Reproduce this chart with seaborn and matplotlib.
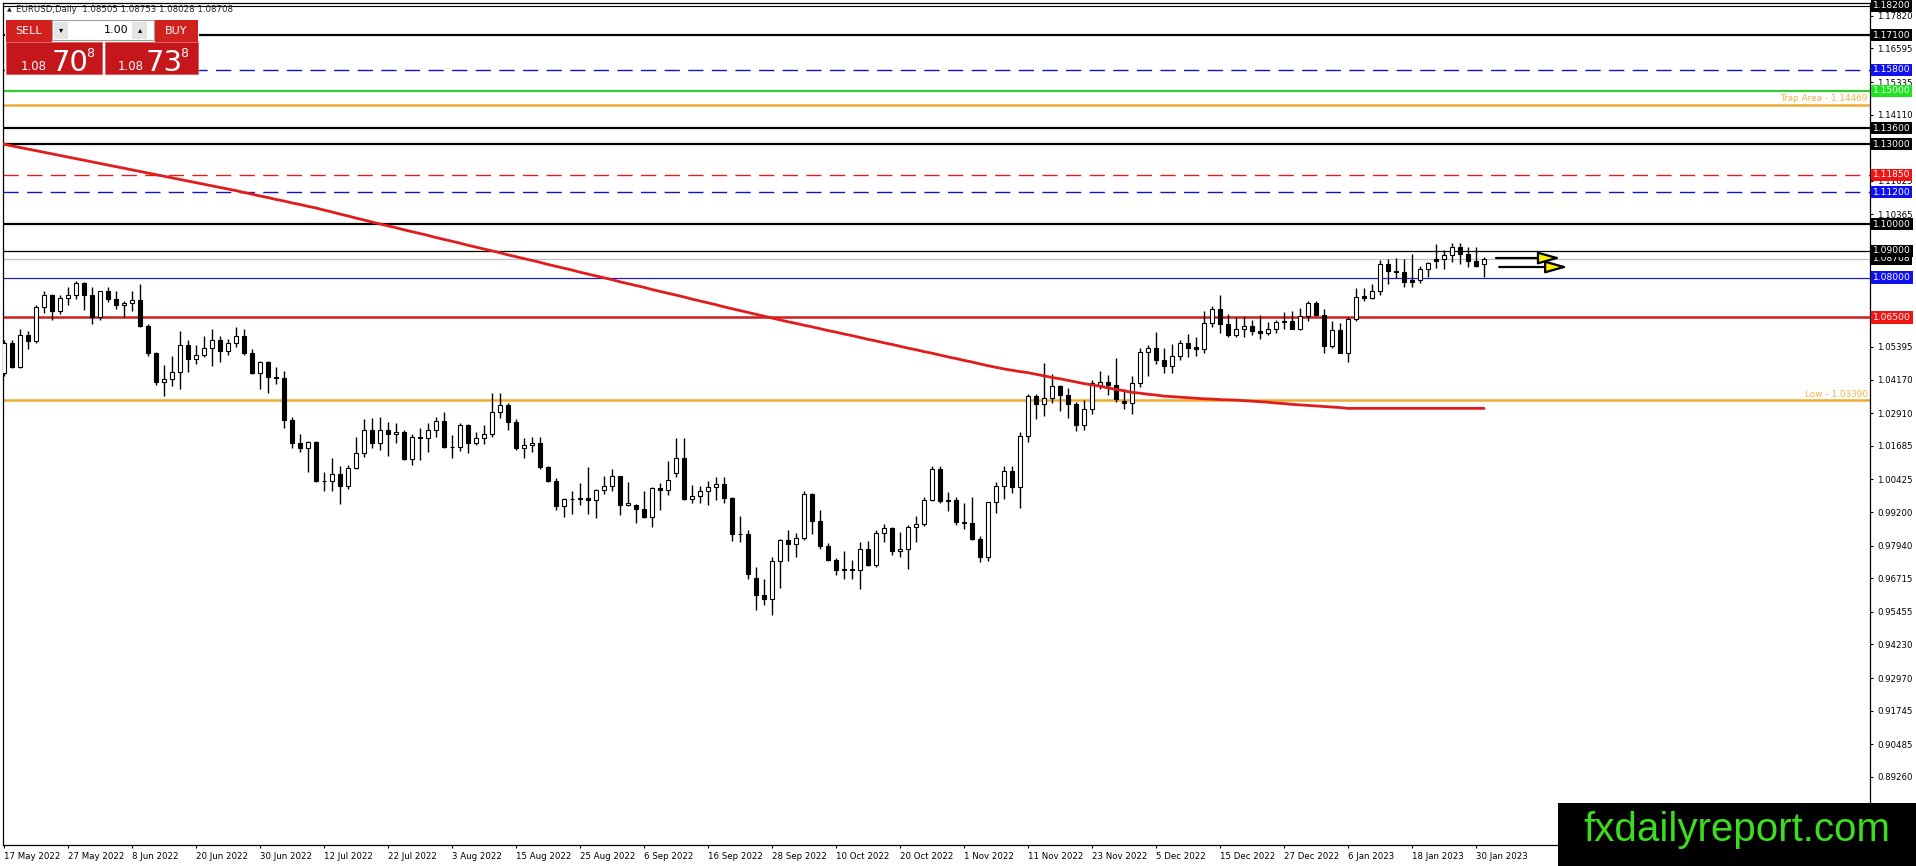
import numpy as np
import pandas as pd
import matplotlib
matplotlib.use('Agg')
import matplotlib.pyplot as plt
from matplotlib.patches import Rectangle
from matplotlib import transforms
import seaborn as sns

# ---- data -------------------------------------------------------------
dates = pd.bdate_range('2022-05-17', '2023-01-31')  # daily bars

opens = [
    1.0440, 1.0554, 1.0464, 1.0586, 1.0563, 1.0690, 1.0733, 1.0676, 1.0725, 1.0733,
    1.0781, 1.0733, 1.0650, 1.0748, 1.0719, 1.0697, 1.0705, 1.0716, 1.0617, 1.0518,
    1.0409, 1.0419, 1.0446, 1.0547, 1.0495, 1.0509, 1.0535, 1.0567, 1.0524, 1.0554,
    1.0582, 1.0518, 1.0443, 1.0484, 1.0425, 1.0424, 1.0266, 1.0180, 1.0161, 1.0182,
    1.0037, 1.0036, 1.0062, 1.0019, 1.0084, 1.0141, 1.0226, 1.0178, 1.0229, 1.0213,
    1.0219, 1.0119, 1.0200, 1.0198, 1.0226, 1.0262, 1.0163, 1.0164, 1.0245, 1.0180,
    1.0196, 1.0212, 1.0297, 1.0320, 1.0259, 1.0160, 1.0170, 1.0180, 1.0088, 1.0037,
    0.9943, 0.9968, 0.9969, 0.9971, 0.9965, 1.0003, 1.0017, 1.0055, 0.9945, 0.9945,
    0.9930, 0.9903, 1.0011, 1.0001, 1.0066, 1.0121, 0.9968, 0.9979, 0.9999, 1.0015,
    1.0027, 0.9971, 0.9837, 0.9837, 0.9671, 0.9607, 0.9592, 0.9735, 0.9815, 0.9801,
    0.9824, 0.9986, 0.9885, 0.9792, 0.9740, 0.9703, 0.9707, 0.9702, 0.9780, 0.9722,
    0.9843, 0.9859, 0.9774, 0.9783, 0.9862, 0.9875, 0.9965, 1.0080, 0.9963, 0.9967,
    0.9882, 0.9878, 0.9820, 0.9750, 0.9958, 1.0018, 1.0074, 1.0013, 1.0206, 1.0354,
    1.0324, 1.0348, 1.0392, 1.0361, 1.0325, 1.0245, 1.0305, 1.0395, 1.0409, 1.0395,
    1.0336, 1.0329, 1.0405, 1.0522, 1.0536, 1.0491, 1.0467, 1.0507, 1.0555, 1.0538,
    1.0531, 1.0630, 1.0680, 1.0627, 1.0583, 1.0606, 1.0619, 1.0600, 1.0593, 1.0608,
    1.0632, 1.0636, 1.0607, 1.0656, 1.0703, 1.0659, 1.0543, 1.0603, 1.0518, 1.0643,
    1.0729, 1.0725, 1.0751, 1.0850, 1.0826, 1.0819, 1.0791, 1.0791, 1.0831, 1.0868,
    1.0868, 1.0884, 1.0913, 1.0888, 1.0863, 1.08505,
]
highs = [
    1.0564, 1.0565, 1.0607, 1.0600, 1.0696, 1.0749, 1.0737, 1.0736, 1.0765, 1.0787,
    1.0782, 1.0766, 1.0751, 1.0764, 1.0749, 1.0713, 1.0748, 1.0774, 1.0627, 1.0522,
    1.0470, 1.0507, 1.0601, 1.0565, 1.0546, 1.0582, 1.0605, 1.0579, 1.0571, 1.0615,
    1.0606, 1.0532, 1.0487, 1.0487, 1.0463, 1.0448, 1.0276, 1.0212, 1.0186, 1.0187,
    1.0071, 1.0121, 1.0093, 1.0096, 1.0200, 1.0269, 1.0273, 1.0278, 1.0258, 1.0254,
    1.0229, 1.0214, 1.0234, 1.0254, 1.0275, 1.0294, 1.0209, 1.0254, 1.0249, 1.0222,
    1.0248, 1.0368, 1.0365, 1.0331, 1.0268, 1.0199, 1.0202, 1.0201, 1.0093, 1.0048,
    0.9973, 0.9998, 1.0029, 1.0090, 1.0008, 1.0054, 1.0080, 1.0057, 1.0034, 0.9952,
    0.9999, 1.0013, 1.0030, 1.0112, 1.0198, 1.0197, 1.0020, 1.0017, 1.0036, 1.0050,
    1.0051, 0.9976, 0.9907, 0.9851, 0.9713, 0.9670, 0.9750, 0.9817, 0.9853, 0.9843,
    0.9999, 0.9991, 0.9929, 0.9803, 0.9748, 0.9774, 0.9739, 0.9807, 0.9810, 0.9853,
    0.9875, 0.9864, 0.9844, 0.9870, 0.9905, 0.9977, 1.0094, 1.0093, 0.9995, 0.9976,
    0.9954, 0.9977, 0.9831, 0.9959, 1.0033, 1.0094, 1.0094, 1.0222, 1.0364, 1.0364,
    1.0481, 1.0437, 1.0396, 1.0386, 1.0333, 1.0341, 1.0414, 1.0448, 1.0433, 1.0497,
    1.0380, 1.0429, 1.0534, 1.0545, 1.0596, 1.0534, 1.0550, 1.0566, 1.0589, 1.0575,
    1.0673, 1.0694, 1.0736, 1.0662, 1.0653, 1.0654, 1.0639, 1.0658, 1.0634, 1.0640,
    1.0669, 1.0673, 1.0687, 1.0713, 1.0712, 1.0683, 1.0636, 1.0628, 1.0650, 1.0760,
    1.0759, 1.0776, 1.0866, 1.0868, 1.0873, 1.0870, 1.0887, 1.0845, 1.0859, 1.0927,
    1.0903, 1.0928, 1.0930, 1.0914, 1.0914, 1.08753,
]
lows = [
    1.0429, 1.0462, 1.0459, 1.0532, 1.0555, 1.0667, 1.0642, 1.0664, 1.0698, 1.0720,
    1.0677, 1.0627, 1.0640, 1.0707, 1.0681, 1.0652, 1.0673, 1.0613, 1.0507, 1.0397,
    1.0357, 1.0392, 1.0382, 1.0445, 1.0476, 1.0501, 1.0469, 1.0484, 1.0511, 1.0538,
    1.0510, 1.0437, 1.0382, 1.0366, 1.0400, 1.0235, 1.0162, 1.0144, 1.0072, 1.0034,
    0.9999, 0.9998, 0.9952, 1.0007, 1.0080, 1.0127, 1.0161, 1.0153, 1.0130, 1.0180,
    1.0114, 1.0096, 1.0114, 1.0145, 1.0202, 1.0161, 1.0123, 1.0149, 1.0142, 1.0170,
    1.0174, 1.0202, 1.0274, 1.0229, 1.0152, 1.0122, 1.0147, 1.0081, 1.0034, 0.9926,
    0.9901, 0.9914, 0.9948, 0.9913, 0.9899, 0.9988, 0.9999, 0.9910, 0.9942, 0.9877,
    0.9897, 0.9864, 0.9929, 0.9985, 1.0050, 0.9966, 0.9954, 0.9955, 0.9945, 0.9967,
    0.9953, 0.9810, 0.9807, 0.9669, 0.9553, 0.9570, 0.9535, 0.9636, 0.9735, 0.9752,
    0.9816, 0.9836, 0.9780, 0.9736, 0.9684, 0.9670, 0.9668, 0.9632, 0.9719, 0.9713,
    0.9808, 0.9758, 0.9753, 0.9705, 0.9808, 0.9866, 0.9963, 0.9954, 0.9924, 0.9871,
    0.9857, 0.9815, 0.9731, 0.9737, 0.9918, 0.9969, 0.9993, 0.9935, 1.0182, 1.0270,
    1.0280, 1.0330, 1.0300, 1.0272, 1.0224, 1.0226, 1.0289, 1.0380, 1.0359, 1.0332,
    1.0305, 1.0289, 1.0389, 1.0429, 1.0477, 1.0443, 1.0443, 1.0491, 1.0500, 1.0505,
    1.0518, 1.0615, 1.0593, 1.0577, 1.0576, 1.0575, 1.0584, 1.0571, 1.0585, 1.0591,
    1.0608, 1.0609, 1.0603, 1.0638, 1.0655, 1.0518, 1.0534, 1.0515, 1.0483, 1.0636,
    1.0713, 1.0719, 1.0733, 1.0777, 1.0797, 1.0766, 1.0766, 1.0780, 1.0802, 1.0837,
    1.0833, 1.0857, 1.0849, 1.0840, 1.0840, 1.08028,
]
closes = [
    1.0554, 1.0464, 1.0586, 1.0563, 1.0690, 1.0733, 1.0676, 1.0725, 1.0733, 1.0781,
    1.0733, 1.0650, 1.0748, 1.0719, 1.0697, 1.0705, 1.0716, 1.0617, 1.0518, 1.0409,
    1.0419, 1.0446, 1.0547, 1.0495, 1.0509, 1.0535, 1.0567, 1.0524, 1.0554, 1.0582,
    1.0518, 1.0443, 1.0484, 1.0425, 1.0424, 1.0266, 1.0180, 1.0161, 1.0182, 1.0037,
    1.0036, 1.0062, 1.0019, 1.0084, 1.0141, 1.0226, 1.0178, 1.0229, 1.0213, 1.0219,
    1.0119, 1.0200, 1.0198, 1.0226, 1.0262, 1.0163, 1.0164, 1.0245, 1.0180, 1.0196,
    1.0212, 1.0297, 1.0320, 1.0259, 1.0160, 1.0170, 1.0180, 1.0088, 1.0037, 0.9943,
    0.9968, 0.9969, 0.9971, 0.9965, 1.0003, 1.0017, 1.0055, 0.9945, 0.9955, 0.9930,
    0.9903, 1.0011, 1.0001, 1.0042, 1.0121, 0.9968, 0.9979, 0.9999, 1.0015, 1.0027,
    0.9971, 0.9837, 0.9837, 0.9688, 0.9607, 0.9592, 0.9735, 0.9815, 0.9801, 0.9824,
    0.9986, 0.9885, 0.9792, 0.9740, 0.9703, 0.9707, 0.9702, 0.9780, 0.9722, 0.9843,
    0.9859, 0.9774, 0.9783, 0.9862, 0.9875, 0.9965, 1.0080, 0.9963, 0.9967, 0.9882,
    0.9878, 0.9820, 0.9750, 0.9958, 1.0018, 1.0074, 1.0013, 1.0206, 1.0354, 1.0324,
    1.0348, 1.0392, 1.0361, 1.0325, 1.0245, 1.0305, 1.0403, 1.0409, 1.0395, 1.0343,
    1.0329, 1.0405, 1.0522, 1.0536, 1.0491, 1.0467, 1.0507, 1.0555, 1.0535, 1.0531,
    1.0630, 1.0680, 1.0627, 1.0583, 1.0606, 1.0619, 1.0600, 1.0593, 1.0608, 1.0632,
    1.0636, 1.0607, 1.0656, 1.0703, 1.0659, 1.0543, 1.0603, 1.0518, 1.0643, 1.0727,
    1.0725, 1.0751, 1.0850, 1.0826, 1.0819, 1.0784, 1.0784, 1.0831, 1.0854, 1.0863,
    1.0884, 1.0913, 1.0888, 1.0863, 1.0845, 1.08708,
]
ma200 = [
    1.1300, 1.1294, 1.1288, 1.1282, 1.1276, 1.1270, 1.1264, 1.1258, 1.1252, 1.1246,
    1.1240, 1.1234, 1.1228, 1.1222, 1.1216, 1.1210, 1.1204, 1.1198, 1.1192, 1.1186,
    1.1180, 1.1174, 1.1168, 1.1162, 1.1156, 1.1150, 1.1144, 1.1138, 1.1132, 1.1126,
    1.1119, 1.1113, 1.1106, 1.1100, 1.1093, 1.1087, 1.1080, 1.1074, 1.1067, 1.1061,
    1.1053, 1.1046, 1.1038, 1.1031, 1.1023, 1.1016, 1.1008, 1.1001, 1.0994, 1.0987,
    1.0979, 1.0972, 1.0965, 1.0958, 1.0950, 1.0943, 1.0936, 1.0929, 1.0921, 1.0914,
    1.0907, 1.0900, 1.0893, 1.0885, 1.0878, 1.0871, 1.0864, 1.0857, 1.0849, 1.0842,
    1.0835, 1.0828, 1.0820, 1.0813, 1.0806, 1.0799, 1.0792, 1.0784, 1.0777, 1.0770,
    1.0763, 1.0755, 1.0748, 1.0741, 1.0734, 1.0727, 1.0719, 1.0712, 1.0705, 1.0698,
    1.0690, 1.0683, 1.0676, 1.0669, 1.0662, 1.0655, 1.0648, 1.0641, 1.0634, 1.0628,
    1.0621, 1.0615, 1.0608, 1.0601, 1.0595, 1.0588, 1.0582, 1.0575, 1.0568, 1.0562,
    1.0555, 1.0549, 1.0542, 1.0535, 1.0529, 1.0522, 1.0516, 1.0509, 1.0502, 1.0496,
    1.0489, 1.0483, 1.0476, 1.0469, 1.0463, 1.0457, 1.0452, 1.0447, 1.0443, 1.0437,
    1.0431, 1.0425, 1.0420, 1.0414, 1.0408, 1.0402, 1.0397, 1.0392, 1.0386, 1.0380,
    1.0375, 1.0369, 1.0366, 1.0362, 1.0359, 1.0355, 1.0353, 1.0351, 1.0349, 1.0347,
    1.0345, 1.0344, 1.0342, 1.0341, 1.0340, 1.0338, 1.0336, 1.0334, 1.0332, 1.0329,
    1.0327, 1.0324, 1.0322, 1.0320, 1.0318, 1.0316, 1.0314, 1.0312, 1.0309, 1.0309,
    1.0309, 1.0309, 1.0309, 1.0309, 1.0309, 1.0309, 1.0309, 1.0309, 1.0309, 1.0309,
    1.0309, 1.0309, 1.0309, 1.0309, 1.0309, 1.0309,
]

# horizontal levels drawn on the chart
level_prices = [1.18200, 1.17100, 1.15800, 1.15000, 1.13600, 1.13000, 1.11850,
                1.11200, 1.10000, 1.08708, 1.09000, 1.08000, 1.06500]
level_colors = ['black', 'black', '#1414c0', '#33cc33', 'black', 'black', '#e02020',
                '#1414c0', 'black', '#c0c0c0', 'black', '#1e1ec8', '#cc1f1f']
level_styles = ['-', '-', '--', '-', '-', '-', '--', '--', '-', '-', '-', '-', '-']
level_widths = [0.8, 1.6, 1.0, 1.6, 1.6, 1.6, 1.0, 1.0, 1.6, 0.9, 0.9, 0.9, 1.8]
label_colors = ['black', 'black', '#1010f0', '#1ee61e', 'black', 'black', '#f01414',
                '#1010f0', 'black', 'black', 'black', '#1010f0', '#f01414']

marked_prices = [1.14469, 1.03390]
marked_texts = ['Trap Area - 1.14469', 'Low - 1.03390']

price_ticks = [1.17820, 1.16595, 1.15335, 1.14110, 1.12850, 1.11625, 1.10365,
               1.09140, 1.07880, 1.06655, 1.05395, 1.04170, 1.02910, 1.01685,
               1.00425, 0.99200, 0.97940, 0.96715, 0.95455, 0.94230, 0.92970,
               0.91745, 0.90485, 0.89260, 0.88000]
# tick labels covered by a coloured level label or by the watermark
hidden_ticks = [1.12850, 1.09140, 1.07880, 1.06655, 0.88000]

date_labels = ['17 May 2022', '27 May 2022', '8 Jun 2022', '20 Jun 2022', '30 Jun 2022',
               '12 Jul 2022', '22 Jul 2022', '3 Aug 2022', '15 Aug 2022', '25 Aug 2022',
               '6 Sep 2022', '16 Sep 2022', '28 Sep 2022', '10 Oct 2022', '20 Oct 2022',
               '1 Nov 2022', '11 Nov 2022', '23 Nov 2022', '5 Dec 2022', '15 Dec 2022',
               '27 Dec 2022', '6 Jan 2023', '18 Jan 2023', '30 Jan 2023']

# hand-drawn arrows (bar index, price)
arrow_tails = [(186.5, 1.08732), (186.9, 1.08395)]
arrow_heads = [(194.6, 1.08732), (195.5, 1.08395)]

df = pd.DataFrame({'date': dates, 'open': opens, 'high': highs,
                   'low': lows, 'close': closes, 'ma': ma200})
df['bar'] = np.arange(len(df))

# ---- figure -----------------------------------------------------------
sns.set_style('white')
plt.rcParams['font.family'] = ['DejaVu Sans']

W, H = 1916, 866
fig = plt.figure(figsize=(W / 100, H / 100), dpi=100)
ax = fig.add_axes([3 / W, 21 / H, 1867 / W, 842 / H])
ax.set_xlim(-0.125, 233.25)
ax.set_ylim(0.86706, 1.18301)

for sp in ax.spines.values():
    sp.set_color('black')
    sp.set_linewidth(0.9)

# level lines
for p, c, ls, lw in zip(level_prices, level_colors, level_styles, level_widths):
    kw = dict(color=c, lw=lw, zorder=1)
    if ls == '--':
        kw['dashes'] = (11, 6)
    ax.axhline(p, **kw)
for p in marked_prices:
    ax.axhline(p, color='#eeaa33', lw=1.8, zorder=1)

# candles
up = df['close'] >= df['open']
ax.vlines(df['bar'], df['low'], df['high'], color='black', lw=1.0, zorder=3)
body_lo = np.minimum(df['open'], df['close'])
body_h = np.maximum((df['close'] - df['open']).abs(), 0.00004)
ax.bar(df['bar'], body_h, bottom=body_lo, width=0.6,
       color=np.where(up, 'white', 'black'), edgecolor='black', linewidth=0.8, zorder=4)

# moving average
sns.lineplot(data=df, x='bar', y='ma', ax=ax, color='#e01c1c', linewidth=2.0, zorder=5)

# arrows
for (x0, y0), (x1, y1) in zip(arrow_tails, arrow_heads):
    ax.annotate('', xy=(x1, y1), xytext=(x0, y0),
                arrowprops=dict(arrowstyle='-|>,head_length=1.35,head_width=0.38',
                                fc='#ffee00', ec='black', lw=1.6,
                                shrinkA=0, shrinkB=0, mutation_scale=10), zorder=6)

# right price axis
ax.yaxis.tick_right()
ax.set_yticks(price_ticks)
ax.set_yticklabels(['' if v in hidden_ticks else f'{v:.5f}' for v in price_ticks],
                   fontsize=6.2, color='black')
ax.tick_params(axis='y', right=True, length=2.5, width=0.8, pad=2.5, color='black')
ax.set_ylabel('')

# bottom date axis
tick_bars = [dates.get_loc(pd.Timestamp(s)) for s in date_labels]
ax.set_xticks(tick_bars)
ax.set_xticklabels(date_labels, fontsize=6.2, color='black', ha='left')
ax.tick_params(axis='x', bottom=True, length=2.5, width=0.8, pad=2.5, color='black')
ax.set_xlabel('')

# coloured price labels on the right axis
lab_tr = transforms.blended_transform_factory(ax.transAxes, ax.transData)
for p, c in zip(level_prices, label_colors):
    ax.text(1.0 + 3 / 1867, p, f'{p:.5f}', transform=lab_tr, ha='left', va='center',
            fontsize=6.6, color='white', clip_on=False, zorder=8,
            bbox=dict(boxstyle='square,pad=0.18', fc=c, ec='none'))

# texts above the orange lines
for p, t in zip(marked_prices, marked_texts):
    ax.text(0.9987, p + 0.0007, t, transform=lab_tr, ha='right', va='bottom',
            fontsize=6.4, color='#f2b247', zorder=7)

# ---- top-left header and trading panel --------------------------------
def fx(x):
    return x / W

def fy(y):
    return 1 - y / H

def rect(x0, y0, x1, y1, fc, ec='none', lw=0.0, z=20):
    fig.add_artist(Rectangle((fx(x0), fy(y1)), (x1 - x0) / W, (y1 - y0) / H,
                             transform=fig.transFigure, fc=fc, ec=ec, lw=lw, zorder=z))

fig.text(fx(7), fy(10), '\u25b2', fontsize=4.5, va='center', ha='left', zorder=21)
fig.text(fx(16), fy(10), 'EURUSD,Daily  1.08505 1.08753 1.08028 1.08708',
         fontsize=6.2, va='center', ha='left', zorder=21)

rect(5, 19, 199, 74, '#ffffff', z=19)
rect(6, 20, 52, 42, '#d2201f')
rect(155, 20, 198, 42, '#d2201f')
rect(52, 20, 154, 40, 'white', ec='#a0a0a0', lw=0.8)
rect(54, 22, 68, 39, '#e4e4e4')
rect(132, 22, 147, 39, '#e4e4e4')
rect(6, 42, 102, 74, '#c4161b', ec='#e05a5a', lw=0.6)
rect(105, 42, 198, 74, '#c4161b', ec='#e05a5a', lw=0.6)

fig.text(fx(29), fy(31), 'SELL', color='white', fontsize=8, ha='center', va='center', zorder=22)
fig.text(fx(176), fy(31), 'BUY', color='white', fontsize=8, ha='center', va='center', zorder=22)
fig.text(fx(61), fy(30), '\u25be', color='black', fontsize=6, ha='center', va='center', zorder=22)
fig.text(fx(140), fy(30), '\u25b4', color='black', fontsize=6, ha='center', va='center', zorder=22)
fig.text(fx(128), fy(30), '1.00', color='black', fontsize=8, ha='right', va='center', zorder=22)
for x_small, x_big, x_sup, big, sup in [(21, 52, 86, '70', '8'), (118, 146, 180, '73', '8')]:
    fig.text(fx(x_small), fy(70), '1.08', color='white', fontsize=8.5, ha='left',
             va='baseline', zorder=22)
    fig.text(fx(x_big), fy(71), big, color='white', fontsize=21, ha='left',
             va='baseline', zorder=22)
    fig.text(fx(x_sup), fy(47), sup, color='white', fontsize=9, ha='left',
             va='top', zorder=22)

# ---- watermark -------------------------------------------------------
rect(1558, 803, 1916, 866, 'black', z=30)
fig.text(fx(1737), fy(830), 'fxdailyreport.com', color='#3cdc1e', fontsize=29,
         family='Liberation Sans', ha='center', va='center', zorder=31)

fig.savefig('out.png', dpi=100, facecolor='white')
